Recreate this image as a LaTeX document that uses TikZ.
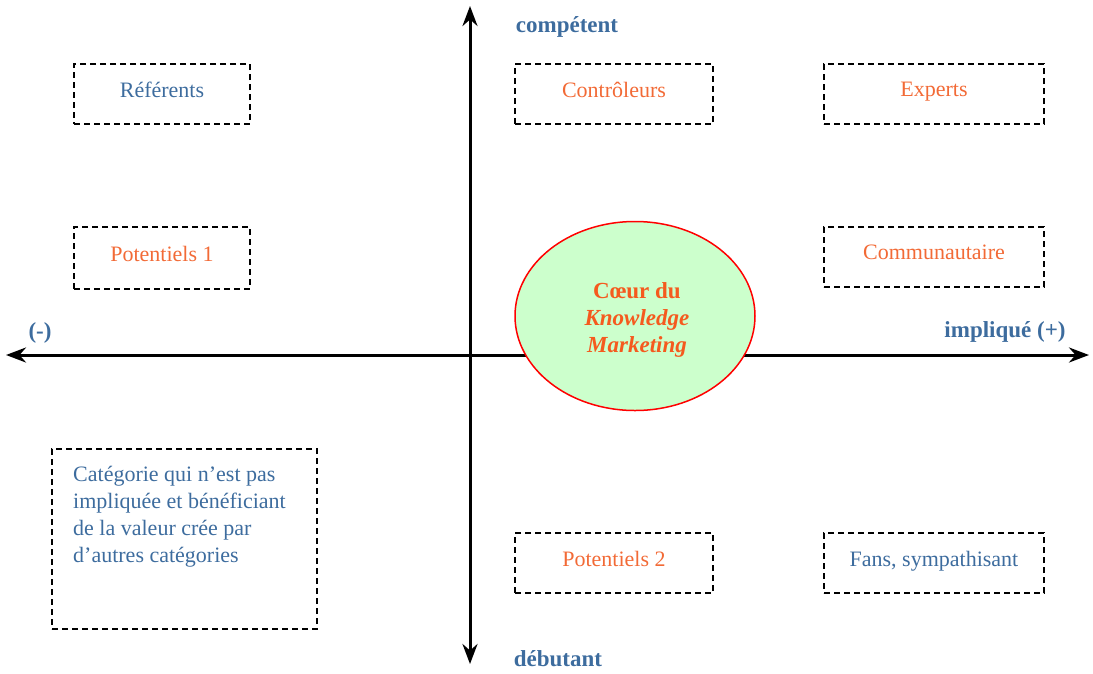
\documentclass[tikz,border=0pt]{standalone}
\usepackage{fontspec}
\setmainfont{Liberation Serif}
\usetikzlibrary{shapes.geometric,arrows.meta}
\definecolor{txtblue}{HTML}{3D6C9E}
\definecolor{txtorange}{HTML}{F26A36}
\definecolor{coeurorange}{HTML}{F55A1E}
\definecolor{coeurgreen}{HTML}{CCFFCC}
\tikzstyle{categ} = [rectangle, draw=black, dashed, dash pattern=on 6pt off 4pt, line width=1.4pt, minimum width=176pt, minimum height=60pt, inner sep=0pt, font=\fontsize{22}{27}\selectfont]
\tikzstyle{bleu} = [text=txtblue]
\tikzstyle{orange} = [text=txtorange]
\tikzstyle{axe} = [line width=3pt, {Stealth[length=20pt,width=15pt]}-{Stealth[length=20pt,width=15pt]}]
\tikzstyle{axelabel} = [text=txtblue, font=\bfseries\fontsize{23}{27}\selectfont]

\begin{document}
\begin{tikzpicture}[x=1pt, y=-1pt]
\useasboundingbox (0,0) rectangle (1093,673);

% axes
\coordinate (gauche) at (6,355);
\coordinate (droite) at (1089,355);
\coordinate (haut) at (470,6);
\coordinate (bas) at (470,664);
\draw [axe] (gauche) -- (droite);
\draw [axe] (haut) -- (bas);

\node (competent) [axelabel] at (567,27) {compétent};
\node (debutant) [axelabel] at (558,659) {débutant};
\node (moins) [axelabel] at (40,333) {(-)};
\node (implique) [axelabel] at (1005,332) {impliqué (+)};

% coeur
\node (coeur) [ellipse, draw=red, line width=1.5pt, fill=coeurgreen, minimum width=240pt, minimum height=189pt] at (635,316) {};
\node (coeurtxt) [text=coeurorange, align=center, font=\bfseries\fontsize{23}{27}\selectfont] at (637,320) {Cœur du\\\textit{Knowledge}\\\textit{Marketing}};

% categories
\node (referents) [categ, bleu] at (162,94) {\raisebox{9pt}{Référents}};
\node (controleurs) [categ, orange, minimum width=198pt] at (614,94) {\raisebox{9pt}{Contrôleurs}};
\node (experts) [categ, orange, minimum width=220pt] at (934,94) {\raisebox{9pt}{Experts}};
\node (pot1) [categ, orange, minimum height=62pt] at (162,258) {\raisebox{9pt}{Potentiels 1}};
\node (commu) [categ, orange, minimum width=220pt] at (934,257) {\raisebox{9pt}{Communautaire}};
\node (pot2) [categ, orange, minimum width=198pt] at (614,563) {\raisebox{9pt}{Potentiels 2}};
\node (fans) [categ, bleu, minimum width=220pt] at (934,563) {\raisebox{9pt}{Fans, sympathisant}};
\node (autres) [categ, bleu, minimum width=265pt, minimum height=180pt] at (184.5,539) {};
\node (autrestxt) [bleu, anchor=north west, inner sep=0pt, align=left, font=\fontsize{22}{27}\selectfont] at (73,466) {Catégorie qui n’est pas\\impliquée et bénéficiant\\de la valeur crée par\\d’autres catégories};

\end{tikzpicture}
\end{document}
